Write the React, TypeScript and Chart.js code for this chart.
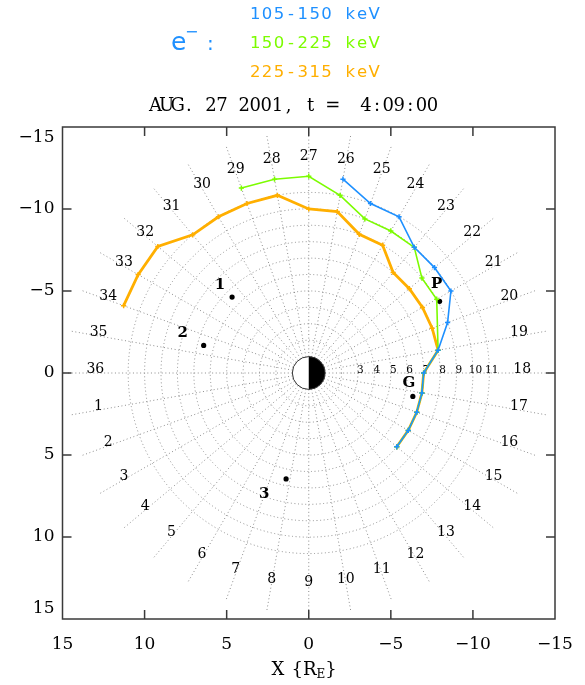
import React, { useEffect, useRef } from 'react';
import { Chart, registerables } from 'chart.js';

Chart.register(...registerables);

// ---- Data ----
const SERIES_NAMES = ['105-150 keV', '150-225 keV', '225-315 keV'];
const SERIES_COLORS = ['#1E90FF', '#7CFC00', '#FFAF00'];

// sector number (1..36, 10 deg each) and radial distance (R_E)
const BLUE_SECTORS = [26, 25, 24, 23, 22, 21, 20, 19, 18, 17, 16, 15, 14];
const BLUE_R = [12, 11, 11, 10, 10, 10, 9, 8, 7, 7, 7, 7, 7];

const GREEN_SECTORS = [29, 28, 27, 26, 25, 24, 23, 22, 21, 19, 18, 17, 16, 15, 14];
const GREEN_R = [12, 12, 12, 11, 10, 10, 10, 9, 9, 8, 7, 7, 7, 7, 7];

const ORANGE_SECTORS = [34, 33, 32, 31, 30, 29, 28, 27, 26, 25, 24, 23, 22, 21, 20, 19, 18, 17, 16, 15, 14];
const ORANGE_R = [12, 12, 12, 11, 11, 11, 11, 10, 10, 9, 9, 8, 8, 8, 8, 8, 7, 7, 7, 7, 7];

const SAT_NAMES = ['1', '2', '3', 'P', 'G'];
const SAT_X = [4.67, 6.4, 1.38, -7.97, -6.34];
const SAT_Y = [-4.63, -1.68, 6.46, -4.37, 1.43];

const SECTOR_LABELS = Array.from({ length: 36 }, (_, i) => String(i + 1));
const RING_VALUES = [3, 4, 5, 6, 7, 8, 9, 10, 11];
const RING_LABELS = ['3', '4', '5', '6', '7', '8', '9', '10', '11'];

const TICK_VALUES = [-15, -10, -5, 0, 5, 10, 15];
const X_TICK_LABELS = ['−15', '−10', '−5', '0', '5', '10', '15'];
const Y_TICK_LABELS: (string | string[])[] = [['', '−15'], '−10', '−5', '0', '5', '10', ['15', '']];

const TITLE = 'AUG. 27 2001, t =  4:09:00';
const X_TITLE = 'X';
const X_UNIT = 'R';
const X_UNIT_SUB = 'E';

// grid geometry
const GRID_RADII = [2, 3, 4, 5, 6, 7, 8, 9, 10, 11];
const R_IN = 1;
const R_OUT = 14.8;
const LABEL_R = 13;

const toXY = (sectors: number[], radii: number[]) =>
  sectors.map((s, i) => {
    const a = (s * 10 * Math.PI) / 180;
    return { x: radii[i] * Math.cos(a), y: radii[i] * Math.sin(a) };
  });

const SAT_LABEL_OFFSETS = [
  [-12, -12],
  [-21, -12],
  [-22, 15],
  [-3, -17],
  [-4, -13],
];

const decoPlugin = {
  id: 'deco',
  beforeDatasetsDraw(chart: any) {
    const { ctx, chartArea } = chart;
    const xs = chart.scales.x;
    const ys = chart.scales.y;
    const P = (X: number, Y: number) => [xs.getPixelForValue(X), ys.getPixelForValue(Y)];
    const cx = xs.getPixelForValue(0);
    const cy = ys.getPixelForValue(0);
    const unit = Math.abs(xs.getPixelForValue(1) - cx);
    ctx.save();
    ctx.beginPath();
    ctx.rect(chartArea.left, chartArea.top, chartArea.right - chartArea.left, chartArea.bottom - chartArea.top);
    ctx.clip();
    ctx.strokeStyle = '#8c8c8c';
    ctx.lineWidth = 1;
    ctx.setLineDash([1, 2.6]);
    for (const r of GRID_RADII) {
      ctx.beginPath();
      ctx.arc(cx, cy, r * unit, 0, Math.PI * 2);
      ctx.stroke();
    }
    for (let k = 1; k <= 36; k++) {
      const a = (k * 10 * Math.PI) / 180;
      const [x1, y1] = P(R_IN * Math.cos(a), R_IN * Math.sin(a));
      const [x2, y2] = P(R_OUT * Math.cos(a), R_OUT * Math.sin(a));
      ctx.beginPath();
      ctx.moveTo(x1, y1);
      ctx.lineTo(x2, y2);
      ctx.stroke();
    }
    ctx.setLineDash([]);

    // sector labels
    ctx.fillStyle = '#000';
    ctx.font = '14px "DejaVu Serif"';
    ctx.textAlign = 'center';
    ctx.textBaseline = 'alphabetic';
    SECTOR_LABELS.forEach((lab, i) => {
      const a = ((i + 1) * 10 * Math.PI) / 180;
      const [lx, ly] = P(LABEL_R * Math.cos(a), LABEL_R * Math.sin(a));
      ctx.fillText(lab, lx, ly);
    });
    // ring labels
    ctx.font = '10.5px "DejaVu Serif"';
    RING_VALUES.forEach((v, i) => {
      const [lx, ly] = P(-(v + 0.15), 0);
      ctx.fillText(RING_LABELS[i], lx, ly);
    });

    // Earth
    const R = unit;
    ctx.beginPath();
    ctx.moveTo(cx, cy);
    ctx.arc(cx, cy, R, Math.PI / 2, (3 * Math.PI) / 2);
    ctx.closePath();
    ctx.fillStyle = '#fff';
    ctx.fill();
    ctx.beginPath();
    ctx.moveTo(cx, cy);
    ctx.arc(cx, cy, R, -Math.PI / 2, Math.PI / 2);
    ctx.closePath();
    ctx.fillStyle = '#000';
    ctx.fill();
    ctx.beginPath();
    ctx.arc(cx, cy, R, 0, Math.PI * 2);
    ctx.strokeStyle = '#333';
    ctx.lineWidth = 1;
    ctx.stroke();
    ctx.restore();
  },
  afterDatasetsDraw(chart: any) {
    const { ctx } = chart;
    const meta = chart.getDatasetMeta(3);
    ctx.save();
    ctx.fillStyle = '#000';
    ctx.font = 'bold 15px "DejaVu Serif"';
    ctx.textAlign = 'center';
    ctx.textBaseline = 'middle';
    meta.data.forEach((pt: any, i: number) => {
      const [dx, dy] = SAT_LABEL_OFFSETS[i];
      ctx.fillText(SAT_NAMES[i], pt.x + dx, pt.y + dy);
    });
    ctx.restore();
  },
  afterDraw(chart: any) {
    const { ctx, chartArea } = chart;
    const xs = chart.scales.x;
    const ys = chart.scales.y;
    const { left, right, top, bottom } = chartArea;
    ctx.save();
    // frame
    ctx.strokeStyle = '#3a3a3a';
    ctx.lineWidth = 1.5;
    ctx.strokeRect(left, top, right - left, bottom - top);
    const TL = 9;
    ctx.beginPath();
    for (const v of TICK_VALUES) {
      if (Math.abs(v) === 15) continue;
      const px = xs.getPixelForValue(v);
      ctx.moveTo(px, bottom);
      ctx.lineTo(px, bottom - TL);
      ctx.moveTo(px, top);
      ctx.lineTo(px, top + TL);
      const py = ys.getPixelForValue(v);
      ctx.moveTo(left, py);
      ctx.lineTo(left + TL, py);
      ctx.moveTo(right, py);
      ctx.lineTo(right - TL, py);
    }
    ctx.stroke();

    // title (fixed-pitch cells)
    ctx.fillStyle = '#000';
    ctx.font = '18px "DejaVu Serif"';
    ctx.textAlign = 'center';
    ctx.textBaseline = 'alphabetic';
    const tAdv = 11.08;
    for (let i = 0; i < TITLE.length; i++) {
      ctx.fillText(TITLE[i], 150 + tAdv * (i + 0.5), 111);
    }

    // legend
    ctx.font = '16.5px "DejaVu Sans"';
    const lAdv = 11.88;
    const baselines = [18.5, 47.5, 76.5];
    SERIES_NAMES.forEach((name, s) => {
      ctx.fillStyle = SERIES_COLORS[s];
      for (let i = 0; i < name.length; i++) {
        ctx.fillText(name[i], 249.3 + lAdv * (i + 0.5), baselines[s]);
      }
    });
    // e-:
    ctx.fillStyle = SERIES_COLORS[0];
    ctx.textAlign = 'left';
    ctx.font = '25px "DejaVu Sans"';
    ctx.fillText('e', 171, 50);
    ctx.font = '16px "DejaVu Sans"';
    ctx.fillText('−', 185, 37);
    ctx.font = '20px "DejaVu Sans"';
    ctx.fillText(':', 207, 50);

    // x axis title
    ctx.fillStyle = '#000';
    ctx.font = '18px "DejaVu Serif"';
    ctx.fillText(X_TITLE, 271.5, 675);
    ctx.fillText('{' + X_UNIT, 291.5, 675);
    const w = ctx.measureText('{' + X_UNIT).width;
    ctx.font = '12px "DejaVu Serif"';
    ctx.fillText(X_UNIT_SUB, 291.5 + w, 678);
    const w2 = ctx.measureText(X_UNIT_SUB).width;
    ctx.font = '18px "DejaVu Serif"';
    ctx.fillText('}', 291.5 + w + w2, 675);
    ctx.restore();
  },
};

export default function App() {
  const ref = useRef<HTMLCanvasElement | null>(null);
  useEffect(() => {
    if (!ref.current) return;
    const lineDs = (label: string, data: any[], color: string, width: number) => ({
      label,
      data,
      showLine: true,
      borderColor: color,
      backgroundColor: color,
      borderWidth: width,
      pointStyle: 'cross',
      pointRadius: 2.6,
      pointBorderWidth: 1.5,
      pointBorderColor: color,
      fill: false,
    });
    const chart = new Chart(ref.current, {
      type: 'scatter',
      data: {
        datasets: [
          lineDs(SERIES_NAMES[0], toXY(BLUE_SECTORS, BLUE_R), SERIES_COLORS[0], 1.6),
          lineDs(SERIES_NAMES[1], toXY(GREEN_SECTORS, GREEN_R), SERIES_COLORS[1], 1.6),
          lineDs(SERIES_NAMES[2], toXY(ORANGE_SECTORS, ORANGE_R), SERIES_COLORS[2], 2.8),
          {
            label: 'spacecraft',
            data: SAT_X.map((x, i) => ({ x, y: SAT_Y[i] })),
            showLine: false,
            pointStyle: 'circle',
            pointRadius: 2.6,
            backgroundColor: '#000',
            borderColor: '#000',
            borderWidth: 0,
          } as any,
        ],
      },
      options: {
        responsive: false,
        devicePixelRatio: 1,
        animation: false,
        layout: { padding: { left: 0, right: 30, top: 127, bottom: 0 } },
        plugins: { legend: { display: false }, tooltip: { enabled: false }, title: { display: false } },
        scales: {
          x: {
            type: 'linear',
            min: -15,
            max: 15,
            reverse: true,
            grid: { display: false, drawTicks: false },
            border: { display: false },
            afterBuildTicks: (scale: any) => {
              scale.ticks = TICK_VALUES.map((v) => ({ value: v }));
            },
            afterFit: (scale: any) => {
              scale.height = 66;
            },
            ticks: {
              color: '#000',
              padding: 15,
              maxRotation: 0,
              font: { family: '"DejaVu Serif"', size: 17 },
              callback: (v: any) => X_TICK_LABELS[TICK_VALUES.indexOf(Number(v))],
            },
          },
          y: {
            type: 'linear',
            min: -15,
            max: 15,
            reverse: true,
            grid: { display: false, drawTicks: false },
            border: { display: false },
            afterBuildTicks: (scale: any) => {
              scale.ticks = TICK_VALUES.map((v) => ({ value: v }));
            },
            afterFit: (scale: any) => {
              scale.width = 62.5;
            },
            ticks: {
              color: '#000',
              padding: 8,
              font: { family: '"DejaVu Serif"', size: 17 },
              callback: (v: any) => Y_TICK_LABELS[TICK_VALUES.indexOf(Number(v))],
            },
          },
        },
      } as any,
      plugins: [decoPlugin],
    });
    return () => chart.destroy();
  }, []);
  return (
    <div style={{ position: 'fixed', left: 0, top: 0, width: 585, height: 685, background: '#fff' }}>
      <canvas ref={ref} width={585} height={685} style={{ width: 585, height: 685, display: 'block' }} />
    </div>
  );
}
